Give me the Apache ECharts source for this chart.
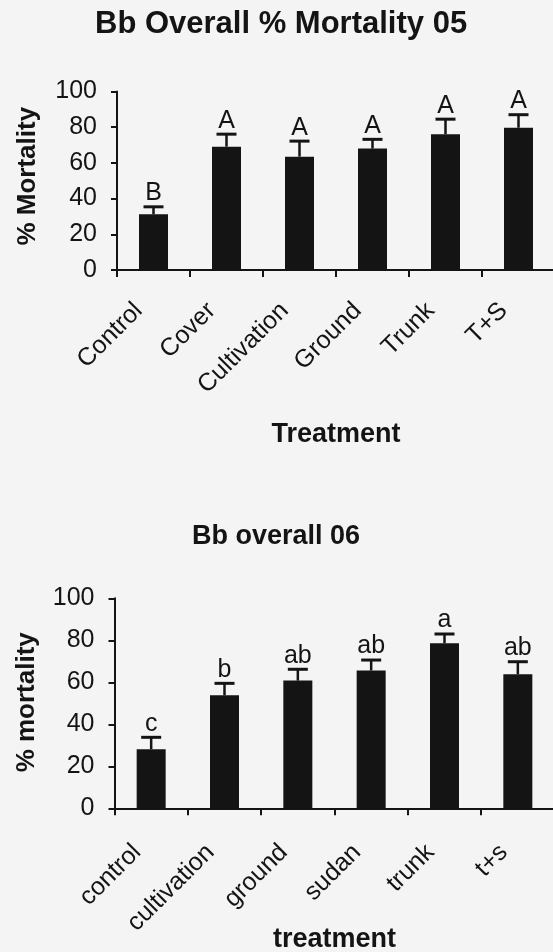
<!DOCTYPE html>
<html>
<head>
<meta charset="utf-8">
<script src="https://cdn.jsdelivr.net/npm/echarts@6/dist/echarts.min.js"></script>
<style>
  html, body { margin: 0; padding: 0; background: #f4f4f4; }
  #chart { width: 553px; height: 952px; }
</style>
</head>
<body>
<div id="chart"></div>
<script>
// ---- Data ----
const categories05 = ['Control', 'Cover', 'Cultivation', 'Ground', 'Trunk', 'T+S'];
const mortality05  = [31.2, 69.1, 63.5, 68.0, 76.0, 79.7];
const error05      = [4.2, 7.0, 8.7, 5.2, 8.5, 7.3];
const letters05    = ['B', 'A', 'A', 'A', 'A', 'A'];

const categories06 = ['control', 'cultivation', 'ground', 'sudan', 'trunk', 't+s'];
const mortality06  = [28.1, 53.8, 60.8, 65.6, 78.6, 63.8];
const error06      = [5.7, 5.7, 5.4, 5.0, 4.4, 6.0];
const letters06    = ['c', 'b', 'ab', 'ab', 'a', 'ab'];

const yTicks = { min: 0, max: 100, interval: 20 };

// ---- Styles ----
const FONT = '"Liberation Sans", Arial, Helvetica, sans-serif';
const INK = '#141414';

function errorSeries(xIdx, values, errors, letters) {
  return {
    type: 'custom',
    xAxisIndex: xIdx,
    yAxisIndex: xIdx,
    z: 5,
    data: values.map((v, i) => [i, v, errors[i]]),
    renderItem: function (params, api) {
      const i = api.value(0);
      const v = api.value(1);
      const e = api.value(2);
      const base = api.coord([i, v]);
      const top = api.coord([i, v + e]);
      const hw = 10;
      return {
        type: 'group',
        children: [
          { type: 'line', shape: { x1: top[0], y1: base[1], x2: top[0], y2: top[1] },
            style: { stroke: INK, lineWidth: 2.5 } },
          { type: 'line', shape: { x1: top[0] - hw, y1: top[1], x2: top[0] + hw, y2: top[1] },
            style: { stroke: INK, lineWidth: 3 } },
          { type: 'text', x: top[0], y: top[1] - 1,
            style: { text: letters[i], fill: INK, fontSize: 25, fontFamily: FONT,
                     align: 'center', verticalAlign: 'bottom' } }
        ]
      };
    }
  };
}

function xAxisFor(gridIndex, cats, name, nameGap, margin, pad) {
  return {
    type: 'category',
    gridIndex: gridIndex,
    data: cats,
    boundaryGap: true,
    name: name,
    nameLocation: 'middle',
    nameGap: nameGap,
    nameMoveOverlap: false,
    nameTextStyle: { fontSize: 27, fontWeight: 'bold', color: INK, fontFamily: FONT },
    axisLine: { show: true, onZero: false, lineStyle: { color: INK, width: 2 } },
    axisTick: { show: true, inside: false, length: 7, alignWithLabel: false, lineStyle: { color: INK, width: 2 } },
    axisLabel: { show: true, interval: 0, rotate: 45, margin: margin, padding: [0, pad, 0, 0],
                 fontSize: 25, color: INK, fontFamily: FONT },
    splitLine: { show: false }
  };
}

function yAxisFor(gridIndex, name, nameGap, shiftPad) {
  return {
    type: 'value',
    gridIndex: gridIndex,
    min: yTicks.min,
    max: yTicks.max,
    interval: yTicks.interval,
    name: name,
    nameLocation: 'middle',
    nameGap: nameGap,
    nameRotate: 90,
    nameMoveOverlap: false,
    nameTextStyle: { fontSize: 26, fontWeight: 'bold', color: INK, fontFamily: FONT,
                     padding: [0, 0, 0, shiftPad] },
    axisLine: { show: true, lineStyle: { color: INK, width: 2 } },
    axisTick: { show: true, inside: false, length: 6, lineStyle: { color: INK, width: 2 } },
    axisLabel: { margin: 20, fontSize: 25, color: INK, fontFamily: FONT },
    splitLine: { show: false }
  };
}

const chart = echarts.init(document.getElementById('chart'), null, { renderer: 'canvas' });

chart.setOption({
  backgroundColor: '#f4f4f4',
  animation: false,
  title: [
    { text: 'Bb Overall % Mortality 05', left: 95, top: 9, padding: 0,
      textStyle: { fontSize: 31, fontWeight: 'bold', color: INK, fontFamily: FONT } },
    { text: 'Bb overall 06', left: 192, top: 523, padding: 0,
      textStyle: { fontSize: 27, fontWeight: 'bold', color: INK, fontFamily: FONT } }
  ],
  grid: [
    { left: 117, top: 91.5, width: 438, height: 178.5, containLabel: false, outerBoundsMode: 'none' },
    { left: 114.5, top: 598.3, width: 440, height: 210, containLabel: false, outerBoundsMode: 'none' }
  ],
  xAxis: [
    xAxisFor(0, categories05, 'Treatment', 151, 22, 21),
    xAxisFor(1, categories06, 'treatment', 118, 26, 20)
  ],
  yAxis: [
    yAxisFor(0, '% Mortality', 76, 9),
    yAxisFor(1, '% mortality', 75, 2)
  ],
  series: [
    { type: 'bar', xAxisIndex: 0, yAxisIndex: 0, data: mortality05, barWidth: 29,
      itemStyle: { color: INK }, z: 3 },
    errorSeries(0, mortality05, error05, letters05),
    { type: 'bar', xAxisIndex: 1, yAxisIndex: 1, data: mortality06, barWidth: 29,
      itemStyle: { color: INK }, z: 3 },
    errorSeries(1, mortality06, error06, letters06)
  ]
});
</script>
</body>
</html>
